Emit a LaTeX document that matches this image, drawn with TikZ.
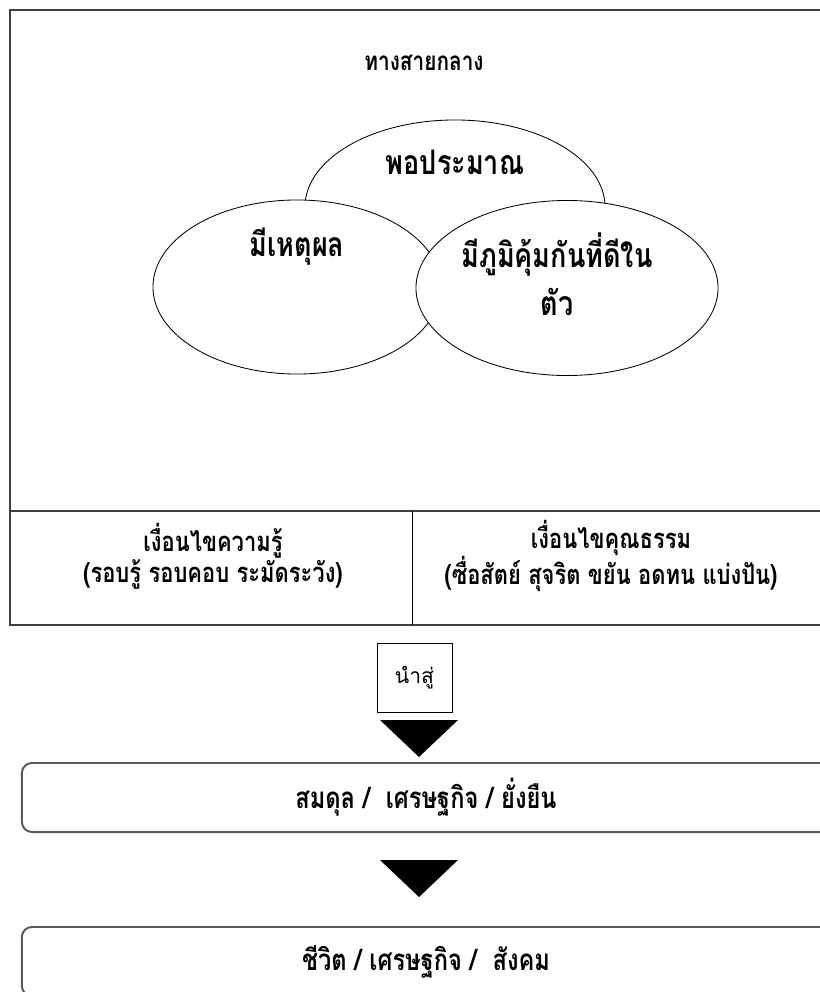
\documentclass[tikz,border=0pt]{standalone}
\usepackage{fontspec}
\newfontfamily\thaifont[Script=Thai,FakeStretch=0.8]{Loma}
\newfontfamily\thaiplain[Script=Thai]{Loma}
\usepackage{tikz}
\usetikzlibrary{positioning}
\usetikzlibrary{shapes,arrows,calc,arrows.meta}

\begin{document}
\begin{tikzpicture}[x=0.025cm, y=-0.025cm,
    frameline/.style={draw=black!75, line width=1.4pt},
    bubble/.style={draw, ellipse, fill=white, line width=0.6pt, minimum width=7.5cm, minimum height=4.35cm},
    bubbletext/.style={font=\thaifont\bfseries\fontsize{24}{34}\selectfont, align=center},
    titletext/.style={font=\thaifont\bfseries\fontsize{18.5}{22}\selectfont},
    smalltext/.style={font=\thaifont\bfseries\fontsize{19.5}{20}\selectfont, align=center},
    flowbox/.style={draw=black!65, line width=1.4pt, rounded corners=0.25cm, minimum width=20.2cm, minimum height=1.725cm, font=\thaifont\bfseries\fontsize{21}{24}\selectfont}]
    \useasboundingbox (0,0) rectangle (820,992);
    % Frame
    \draw [frameline] (10,10) rectangle (830,625);
    \draw [frameline] (10,511) -- (830,511);
    \draw [line width=0.7pt] (412,511) -- (412,625);
    \node [titletext] (middle) at (424,63) {ทางสายกลาง};
    % Nodes
    \node [bubble] (po) at (455,207) {};
    \node [bubble, minimum width=7.2cm] (reason) at (297,287) {};
    \node [bubble, minimum width=7.55cm, minimum height=4.375cm] (immune) at (567,288) {};
    \node [bubbletext] (potxt) at ([yshift=1.125cm]po.center) {พอประมาณ};
    \node [bubbletext] (reasontxt) at ([yshift=1cm]reason.center) {มีเหตุผล};
    \node [bubbletext] (immunetxt) at ([xshift=-0.25cm,yshift=0.35cm]immune.center) {มีภูมิคุ้มกันที่ดีใน\\ตัว};

    \node [smalltext] (know) at (213,556) {เงื่อนไขความรู้\\(รอบรู้ รอบคอบ ระมัดระวัง)};
    \node [smalltext] (virtue) at (611,556) {เงื่อนไขคุณธรรม\\(ซื่อสัตย์ สุจริต ขยัน อดทน แบ่งปัน)};

    \node [draw, line width=0.6pt, minimum width=1.875cm, minimum height=1.725cm, font=\thaiplain\fontsize{15}{18}\selectfont] (nasu) at (414.5,677.5) {นำสู่};
    \node [flowbox] (balance) at (426,797.5) {สมดุล /\ \ เศรษฐกิจ / ยั่งยืน};
    \node [flowbox] (life) at (426,961.5) {ชีวิต / เศรษฐกิจ /\ \ สังคม};
    % Arrows
    \coordinate (tip1) at (419,757);
    \coordinate (tip2) at (419,897);
    \fill (tip1) -- ++(-39,-37) -- ++(78,0) -- cycle;
    \fill (tip2) -- ++(-39,-37) -- ++(78,0) -- cycle;
\end{tikzpicture}
\end{document}
